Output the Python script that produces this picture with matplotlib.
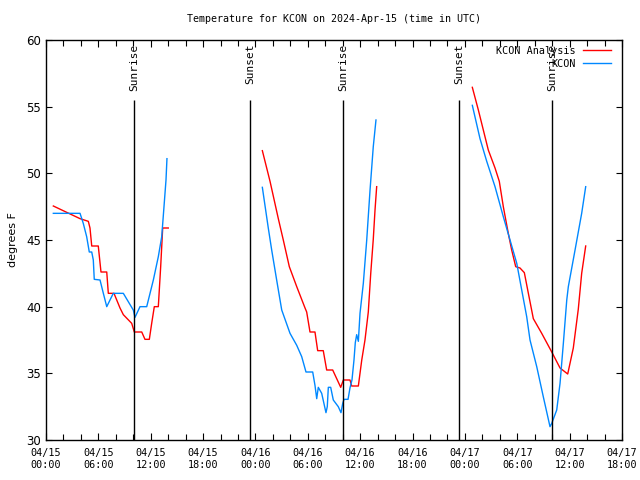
import numpy as np
import matplotlib
matplotlib.use('Agg')
import matplotlib.pyplot as plt

# hours since 04/15 00:00 UTC, temps in F
ana1_h = [0.84, 3.90, 4.85, 5.04, 5.24, 5.99, 6.30, 6.96, 7.14, 7.79, 8.48, 8.86, 9.82,
          10.12, 10.97, 11.34, 11.84, 12.11, 12.41, 12.87, 13.14, 13.37, 14.01]
ana1_t = [47.55, 46.6, 46.4, 45.9, 44.55, 44.55, 42.6, 42.6, 41, 41, 39.9, 39.4, 38.75,
          38.1, 38.1, 37.55, 37.55, 38.75, 40, 40, 43, 45.9, 45.9]
obs1_h = [0.84, 3.90, 4.27, 4.66, 4.96, 5.24, 5.42, 5.53, 6.19, 6.57, 6.96, 7.71, 8.86,
          10.0, 10.2, 10.77, 11.54, 12.3, 12.87, 13.26, 13.52, 13.75, 13.86]
obs1_t = [47, 47, 46.25, 45.25, 44.1, 44.1, 43.5, 42.05, 42, 41, 40, 41, 41,
          39.75, 39.2, 40, 40, 42, 43.75, 45.25, 47.5, 49.5, 51.1]

ana2_h = [24.79, 25.67, 26.62, 27.19, 27.88, 28.73, 29.68, 29.87, 30.25, 30.82, 31.13,
          31.77, 32.16, 32.85, 33.77, 34.07, 34.83, 35.03, 35.79, 36.18, 36.55, 36.93,
          37.21, 37.50, 37.70, 37.89]
ana2_t = [51.7, 49.4, 46.6, 45, 43, 41.5, 39.9, 39.6, 38.1, 38.1, 36.7, 36.7, 35.25,
          35.25, 33.95, 34.5, 34.5, 34.05, 34.05, 36, 37.5, 39.6, 42.5, 45.05, 47.25, 49.0]
obs2_h = [24.79, 25.09, 25.47, 25.86, 26.43, 27.01, 27.96, 28.73, 29.30, 29.79, 30.56,
          30.82, 31.02, 31.2, 31.59, 32.08, 32.23, 32.35, 32.62, 32.92, 33.49, 33.80,
          34.0, 34.15, 34.61, 34.83, 35.06, 35.29, 35.44, 35.60, 35.79, 35.98, 36.36,
          36.75, 37.13, 37.50, 37.81]
obs2_t = [48.95, 47.6, 45.9, 44.25, 42, 39.75, 38, 37.1, 36.25, 35.1, 35.1, 34.1, 33.1,
          33.95, 33.5, 32.05, 32.5, 33.95, 33.95, 33, 32.5, 32.05, 32.75, 33.05, 33.05,
          33.9, 34.5, 36, 37.3, 37.9, 37.4, 39.5, 41.75, 45, 48.75, 52, 54.0]

ana3_h = [48.85, 49.54, 50.68, 51.45, 51.94, 52.40, 52.97, 53.36, 53.82, 54.31, 54.81,
          55.27, 55.84, 56.80, 57.95, 58.90, 59.78, 60.42, 60.99, 61.38, 61.84]
ana3_t = [56.45, 54.75, 51.75, 50.4, 49.4, 47.5, 45.5, 44.25, 43, 42.9, 42.55, 41, 39.1,
          38, 36.6, 35.4, 34.95, 36.9, 39.8, 42.5, 44.55]
obs3_h = [48.85, 49.73, 50.50, 51.45, 52.40, 53.17, 53.94, 54.51, 55.08, 55.46, 56.23,
          56.98, 57.75, 57.95, 58.52, 58.90, 59.28, 59.67, 59.85, 60.62, 61.38, 61.84]
obs3_t = [55.1, 52.6, 50.9, 49, 46.75, 45, 43.25, 41.25, 39.25, 37.5, 35.5, 33.25, 31.0,
          31.25, 32.25, 34.25, 37.25, 40.5, 41.5, 44.25, 47, 49]

sun_h = [10.08, 23.37, 34.04, 47.33, 57.99]
sun_lbl = ['Sunrise', 'Sunset', 'Sunrise', 'Sunset', 'Sunrise']

tick_h = [0, 6, 12, 18, 24, 30, 36, 42, 48, 54, 60, 66]
tick_lbl = ['04/15\n00:00', '04/15\n06:00', '04/15\n12:00', '04/15\n18:00',
            '04/16\n00:00', '04/16\n06:00', '04/16\n12:00', '04/16\n18:00',
            '04/17\n00:00', '04/17\n06:00', '04/17\n12:00', '04/17\n18:00']

RED = '#ff0000'
BLUE = '#0088ff'
mono = 'DejaVu Sans Mono'

fig = plt.figure(figsize=(6.4, 4.8), dpi=100)
ax = fig.add_axes([46/640, 40/480, 576/640, 400/480])

for i, (h, t) in enumerate([(ana1_h, ana1_t), (ana2_h, ana2_t), (ana3_h, ana3_t)]):
    ax.plot(h, t, color=RED, lw=1.0, label='KCON Analysis' if i == 0 else None)
for i, (h, t) in enumerate([(obs1_h, obs1_t), (obs2_h, obs2_t), (obs3_h, obs3_t)]):
    ax.plot(h, t, color=BLUE, lw=1.0, label='KCON' if i == 0 else None)

# sunrise / sunset markers
ax.vlines(sun_h, 30, 55.5, color='black', lw=1.0)
for h, s in zip(sun_h, sun_lbl):
    ax.text(h, 59.7, s, rotation=90, ha='center', va='top', fontsize=8, family=mono)

ax.set_xlim(0, 66)
ax.set_ylim(30, 60)
ax.set_xticks(tick_h)
ax.set_xticklabels(tick_lbl, family=mono, fontsize=7.3)
ax.set_xticks(np.arange(0, 67, 2), minor=True)
ax.set_yticks(np.arange(30, 61, 5))
ax.tick_params(axis='y', labelsize=8.5)
ax.tick_params(which='both', direction='in', top=True, right=True, length=4, width=0.8)
ax.tick_params(axis='x', which='major', length=5, pad=6)
for s in ax.spines.values():
    s.set_linewidth(1.0)

ax.set_ylabel('degrees F', fontsize=8, labelpad=6)
fig.text(334/640, 1 - 19/480, 'Temperature for KCON on 2024-Apr-15 (time in UTC)',
         ha='center', va='center', family=mono, fontsize=7.2)

ax.legend(loc='upper right', bbox_to_anchor=(611/640, 1 - 46/480),
          bbox_transform=fig.transFigure, frameon=False, markerfirst=False,
          prop={'family': mono, 'size': 7.3}, handlelength=2.8, handletextpad=0.7,
          labelspacing=0.3, borderaxespad=0, borderpad=0)

fig.savefig('out.png', dpi=100)
